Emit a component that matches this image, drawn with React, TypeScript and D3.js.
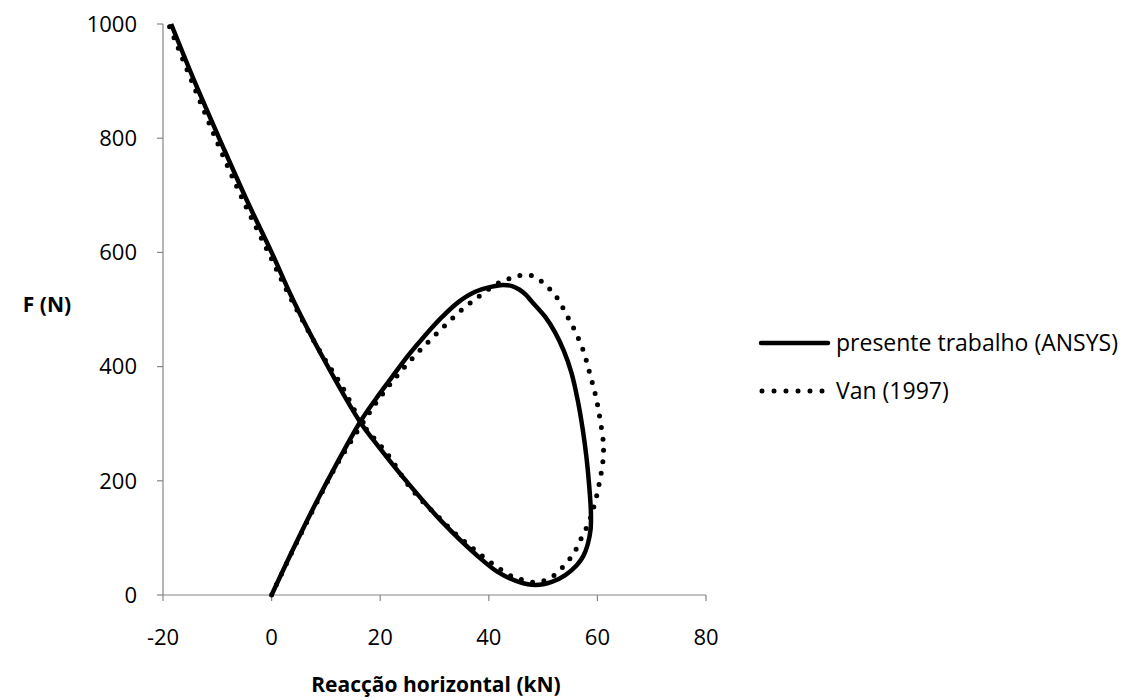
import React from 'react';
import * as d3 from 'd3';

// presente trabalho (ANSYS): [Reacção horizontal kN, F N]
const ansysX = [0, 4, 8, 12, 16.3, 19.1, 22.2, 25.2, 28.3, 31.4, 34.4, 37.5, 40.6, 42.6, 44.3, 45.6, 46.8, 47.9, 50.4, 52.2, 53.8, 55.2, 56.4, 57.3, 58.0, 58.5, 58.8, 58.75, 58.2, 57.4, 56.2, 54.1, 51.6, 48.6, 45.5, 41.7, 38.1, 31.4, 25.2, 19.7, 16.3, 9.9, 4.05, 0, -4.5, -9.1, -14, -18.5];
const ansysY = [0, 81, 158, 230, 303, 342, 382, 420, 455, 487, 513, 531, 540, 543, 541, 535, 526, 514, 487, 460, 428, 390, 340, 290, 240, 190, 145, 115, 88, 68, 52, 35, 23, 17.5, 23, 40, 67, 128, 195, 260, 303, 408, 515, 600, 690, 788, 895, 1000];

// Van (1997)
const vanX = [0, 4, 8, 12, 16.7, 19.5, 22.5, 25.4, 28.3, 31.4, 34.6, 37.9, 41.5, 43.5, 45.4, 47.7, 49.6, 51.2, 52.6, 53.7, 54.7, 55.7, 57.4, 58.6, 59.7, 60.5, 61.1, 61.1, 60.9, 60.5, 60.1, 59.6, 59.0, 58.4, 57.3, 56.4, 55.3, 54.0, 52.5, 50.7, 48.6, 46.4, 44.2, 40.5, 37.4, 33.8, 30.7, 27.6, 24.9, 21.5, 16.7, 13, 9.2, 3.5, -0.6, -5.2, -9.8, -14.5, -19];
const vanY = [0, 80, 156, 228, 300, 340, 377, 409, 438, 467, 496, 521, 545, 553, 559, 560, 550, 536, 520, 502, 484, 466, 428, 388, 348, 307, 266, 245, 225, 204, 184, 163, 144, 126, 105, 86, 68, 53, 38, 27, 22, 26, 33, 56, 79, 108, 137, 166, 196, 245, 300, 365, 422, 520, 600, 690, 788, 895, 1000];

const xTicks = [-20, 0, 20, 40, 60, 80];
const yTicks = [0, 200, 400, 600, 800, 1000];

const seriesNames = ['presente trabalho (ANSYS)', 'Van (1997)'];

const FONT = '"Open Sans", "Liberation Sans", sans-serif';
const AXIS = '#868686';

export default function App() {
  const width = 1125;
  const height = 700;
  const left = 163;
  const right = 706;
  const top = 24;
  const bottom = 595;

  const x = d3.scaleLinear().domain([-20, 80]).range([left, right]);
  const y = d3.scaleLinear().domain([0, 1000]).range([bottom, top]);

  const line = d3.line<[number, number]>()
    .x(d => x(d[0]))
    .y(d => y(d[1]))
    .curve(d3.curveCatmullRom.alpha(0.5));

  const ansys: [number, number][] = ansysX.map((v, i) => [v, ansysY[i]]);
  const van: [number, number][] = vanX.map((v, i) => [v, vanY[i]]);

  return (
    <div style={{ position: 'absolute', left: 0, top: 0 }}>
      <svg width={width} height={height} style={{ display: 'block', background: '#fff' }}>
        {/* axes */}
        <line x1={x(-20)} x2={x(-20)} y1={y(0)} y2={y(1000)} stroke={AXIS} strokeWidth={1.2} />
        <line x1={x(-20)} x2={x(80)} y1={y(0)} y2={y(0)} stroke={AXIS} strokeWidth={1.2} />
        {yTicks.map(t => (
          <g key={'y' + t}>
            <line x1={x(-20) - 6} x2={x(-20)} y1={y(t)} y2={y(t)} stroke={AXIS} strokeWidth={1.2} />
            <text x={137} y={y(t)} dy="0.35em" textAnchor="end" fontFamily={FONT} fontSize={22} fill="#000">{t}</text>
          </g>
        ))}
        {xTicks.map(t => (
          <g key={'x' + t}>
            <line x1={x(t)} x2={x(t)} y1={y(0)} y2={y(0) + 6} stroke={AXIS} strokeWidth={1.2} />
            <text x={x(t)} y={637} dy="0.35em" textAnchor="middle" fontFamily={FONT} fontSize={22} fill="#000">{t}</text>
          </g>
        ))}

        {/* series */}
        <path d={line(ansys) || ''} fill="none" stroke="#000" strokeWidth={4.5} strokeLinejoin="round" />
        <path d={line(van) || ''} fill="none" stroke="#000" strokeWidth={5} strokeDasharray="0 11.5" strokeLinecap="round" />

        {/* axis titles */}
        <text x={47} y={305} dy="0.35em" textAnchor="middle" fontFamily={FONT} fontSize={21} fontWeight="bold">F (N)</text>
        <text x={436} y={685} dy="0.35em" textAnchor="middle" fontFamily={FONT} fontSize={21} fontWeight="bold">Reacção horizontal (kN)</text>

        {/* legend */}
        <line x1={761} x2={828} y1={343} y2={343} stroke="#000" strokeWidth={4.5} strokeLinecap="round" />
        <text x={836} y={343} dy="0.35em" fontFamily={FONT} fontSize={23}>{seriesNames[0]}</text>
        <line x1={762} x2={823} y1={391} y2={391} stroke="#000" strokeWidth={5} strokeDasharray="0 12" strokeLinecap="round" />
        <text x={836} y={391} dy="0.35em" fontFamily={FONT} fontSize={23}>{seriesNames[1]}</text>
      </svg>
    </div>
  );
}
